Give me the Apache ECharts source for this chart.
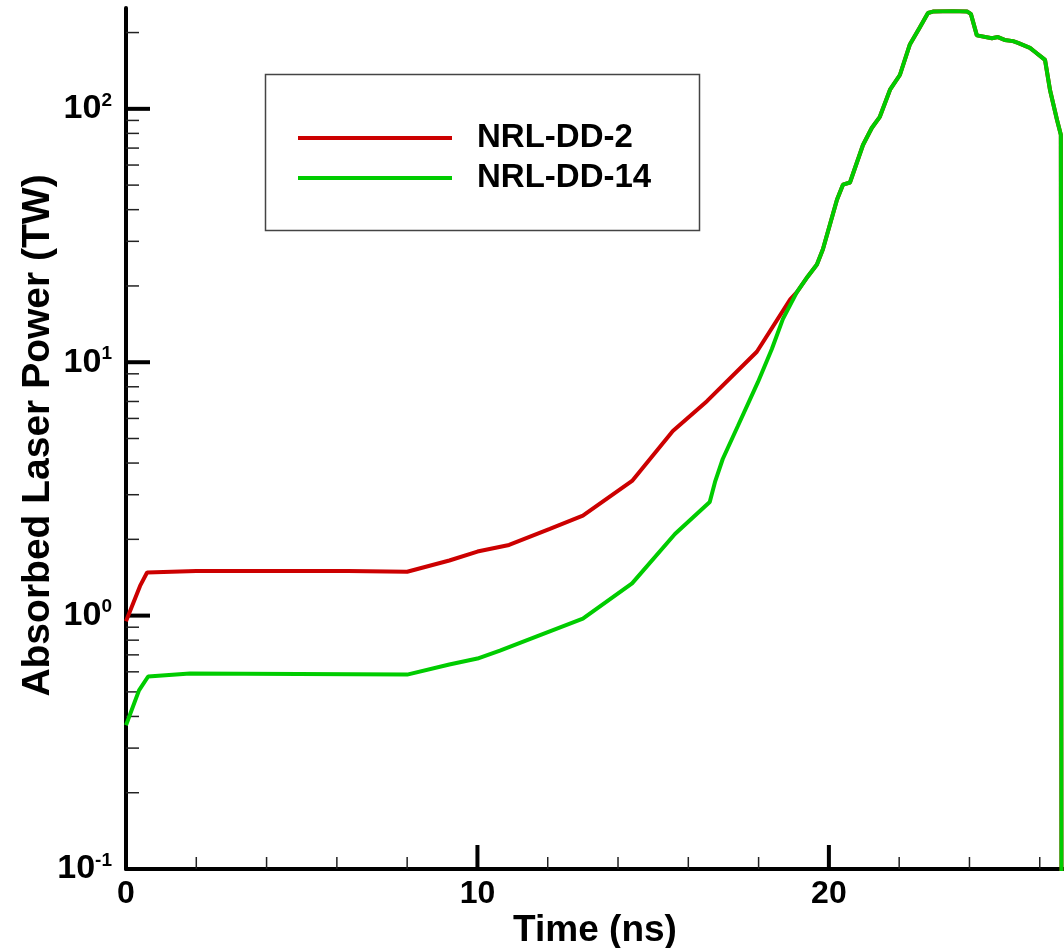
<!DOCTYPE html>
<html>
<head>
<meta charset="utf-8">
<title>Absorbed Laser Power</title>
<script src="https://cdn.jsdelivr.net/npm/echarts@6/dist/echarts.min.js"></script>
<style>
  html, body { margin: 0; padding: 0; background: #fff; }
  #chart { width: 1064px; height: 948px; }
</style>
</head>
<body>
<div id="chart"></div>
<script>
// ---- data (time in ns, power in TW) ----
const timeDD2  = [0, 0.4, 0.6, 2.0, 6.3, 8.0, 9.2, 10.0, 10.9, 12.06, 13.0, 14.4, 15.56, 16.53, 17.95, 18.9, 19.09]
const powerDD2 = [0.95, 1.31, 1.48, 1.50, 1.50, 1.49, 1.65, 1.79, 1.90, 2.20, 2.48, 3.40, 5.35, 7.02, 11.0, 17.7, 18.9]

const timeDD14  = [0, 0.37, 0.63, 1.82, 8.0, 9.2, 10.0, 10.64, 11.8, 13.0, 14.4, 15.62, 16.61, 16.76, 16.98, 17.41, 17.98, 18.38, 18.69, 19.09]
const powerDD14 = [0.369, 0.507, 0.575, 0.591, 0.585, 0.641, 0.677, 0.728, 0.84, 0.973, 1.34, 2.10, 2.81, 3.37, 4.15, 5.6, 8.34, 11.3, 14.8, 18.9]

// both designs follow the same main pulse after ~19 ns
const peakTime  = [19.4, 19.66, 19.83, 20.23, 20.4, 20.6, 20.97, 21.22, 21.45, 21.74, 22.02, 22.3, 22.59, 22.82, 22.96, 23.53, 23.93, 24.04, 24.21, 24.64, 24.81, 25.0, 25.24, 25.38, 25.72, 25.86, 26.15, 26.29, 26.49, 26.6, 26.62]
const peakPower = [21.8, 24.3, 27.9, 43.8, 50.2, 51.2, 72, 84, 93, 119, 136, 179, 210, 239, 242, 243, 242, 237, 195, 190, 192, 187, 185, 182, 174, 168, 156, 119, 90.6, 79, 0.05]

// axis ticks
const xMajorTicks = [0, 10, 20]
const xMinorTicks = [2, 4, 6, 8, 12, 14, 16, 18, 22, 24, 26]
const yMajorTicks = [0.1, 1, 10, 100]
const yMinorTicks = [0.2, 0.3, 0.4, 0.5, 0.6, 0.7, 0.8, 0.9, 2, 3, 4, 5, 6, 7, 8, 9,
  20, 30, 40, 50, 60, 70, 80, 90, 200]

const X_MIN = 0, X_MAX = 26.69
const Y_MIN = 0.1, Y_MAX = 250
const FONT = '"Liberation Sans", Arial, Helvetica, sans-serif'

const toPairs = (xs, ys) => xs.map((x, i) => [x, ys[i]])

// tick marks drawn through the axes' own scales
function tickSeries(values, onX, len, width, color) {
  return {
    type: 'custom',
    silent: true,
    z: 3,
    data: values.map(v => (onX ? [v, Y_MIN] : [X_MIN, v])),
    renderItem: (params, api) => {
      const p = api.coord([api.value(0), api.value(1)])
      const shape = onX
        ? { x1: p[0], y1: p[1], x2: p[0], y2: p[1] - len }
        : { x1: p[0], y1: p[1], x2: p[0] + len, y2: p[1] }
      return { type: 'line', shape: shape, style: { stroke: color, lineWidth: width } }
    },
  }
}

const chart = echarts.init(document.getElementById('chart'))

const option = {
  animation: false,
  backgroundColor: '#fff',
  textStyle: { fontFamily: FONT },
  grid: { left: 126, right: 0, top: 8, bottom: 79, containLabel: false, outerBoundsMode: 'none' },
  legend: {
    data: ['NRL-DD-2', 'NRL-DD-14'],
    orient: 'vertical',
    left: 298,
    top: 118,
    padding: 0,
    itemGap: 0,
    itemWidth: 154,
    itemHeight: 4,
    icon: 'rect',
    textStyle: {
      fontFamily: FONT,
      fontSize: 33,
      fontWeight: 'bold',
      color: '#000',
      lineHeight: 40,
      padding: [0, 0, 0, 20],
    },
  },
  graphic: [{
    type: 'rect',
    left: 263,
    top: 72,
    shape: { width: 434, height: 156 },
    style: { fill: 'none', stroke: '#444', lineWidth: 1.5 },
    silent: true,
  }],
  xAxis: {
    type: 'value',
    min: X_MIN,
    max: X_MAX,
    interval: 10,
    name: 'Time (ns)',
    nameLocation: 'middle',
    nameGap: 43,
    nameMoveOverlap: false,
    nameTextStyle: { fontFamily: FONT, fontSize: 37, fontWeight: 'bold', color: '#000' },
    axisLine: { show: true, onZero: false, lineStyle: { color: '#000', width: 4 } },
    axisTick: { show: false },
    minorTick: { show: false },
    splitLine: { show: false },
    axisLabel: {
      margin: 9,
      showMaxLabel: false,
      fontFamily: FONT,
      fontSize: 32,
      fontWeight: 'bold',
      color: '#000',
    },
  },
  yAxis: {
    type: 'log',
    logBase: 10,
    min: Y_MIN,
    max: Y_MAX,
    name: 'Absorbed Laser Power (TW)',
    nameLocation: 'middle',
    nameGap: 68,
    nameMoveOverlap: false,
    nameTextStyle: {
      fontFamily: FONT,
      fontSize: 39,
      fontWeight: 'bold',
      color: '#000',
      padding: [0, 0, 0, 6],
    },
    axisLine: { show: true, lineStyle: { color: '#000', width: 4 } },
    axisTick: { show: false },
    minorTick: { show: false },
    splitLine: { show: false },
    axisLabel: {
      margin: 14,
      showMaxLabel: false,
      formatter: v => {
        const e = Math.log10(v)
        const r = Math.round(e)
        if (Math.abs(e - r) > 1e-6) return ''
        return '{b|10}{s|' + r + '}'
      },
      rich: {
        b: { fontFamily: FONT, fontSize: 34, fontWeight: 'bold', color: '#000', lineHeight: 36 },
        s: { fontFamily: FONT, fontSize: 19, fontWeight: 'bold', color: '#000', lineHeight: 16, verticalAlign: 'top' },
      },
    },
  },
  series: [
    {
      name: 'NRL-DD-2',
      type: 'line',
      data: toPairs(timeDD2.concat(peakTime), powerDD2.concat(peakPower)),
      showSymbol: false,
      clip: true,
      z: 4,
      color: '#cc0000',
      lineStyle: { color: '#cc0000', width: 4 },
    },
    {
      name: 'NRL-DD-14',
      type: 'line',
      data: toPairs(timeDD14.concat(peakTime), powerDD14.concat(peakPower)),
      showSymbol: false,
      clip: true,
      z: 5,
      color: '#00cc00',
      lineStyle: { color: '#00cc00', width: 4 },
    },
    tickSeries(xMajorTicks, true, 24, 4, '#000'),
    tickSeries(xMinorTicks, true, 12, 1.5, '#222'),
    tickSeries(yMajorTicks, false, 24, 4, '#000'),
    tickSeries(yMinorTicks, false, 13, 1.5, '#222'),
  ],
}

chart.setOption(option)
</script>
</body>
</html>
